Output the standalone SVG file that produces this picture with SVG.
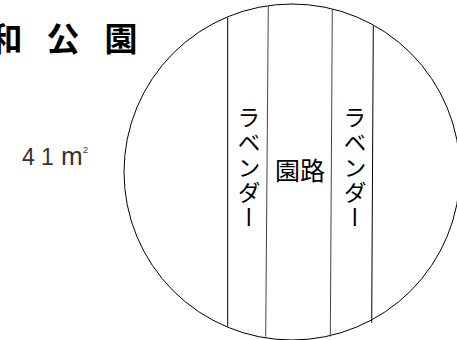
<svg xmlns="http://www.w3.org/2000/svg" width="457" height="340" viewBox="0 0 457 340">
<style>
.t{font-family:"Noto Sans CJK JP","Noto Sans",sans-serif;fill:#000}
.ln{stroke:#000;stroke-width:1;fill:none}
.lg{stroke:#444;stroke-width:1;fill:none}
.v{writing-mode:tb;font-size:23px;letter-spacing:2px}
</style>
<rect width="457" height="340" fill="#fff"/>
<g id="title" class="t" font-size="33" font-weight="bold" text-anchor="middle">
<text x="6" y="50.5">和</text>
<text x="63" y="50.5">公</text>
<text x="121" y="50.5">園</text>
</g>
<g id="area" font-family="'Liberation Sans',Arial,sans-serif" fill="#333">
<text x="22" y="165" font-size="23">4</text>
<text x="41" y="165" font-size="23">1</text>
<text x="61" y="165" font-size="26">m</text>
<text x="83" y="153" font-size="9">2</text>
</g>
<g id="park">
<circle cx="292" cy="172" r="168" class="ln" stroke-width="1.2"/>
<line x1="227.7" y1="17.3" x2="227.7" y2="326.7" class="ln"/>
<line x1="268.3" y1="6" x2="265.7" y2="336.7" class="lg"/>
<line x1="332.3" y1="9.3" x2="330.3" y2="336.7" class="lg"/>
<line x1="373.3" y1="26" x2="371.7" y2="322.7" class="ln"/>
</g>
<g id="lavender-left" class="t"><text x="249" y="106" class="v">ラベンダー</text></g>
<g id="path" class="t"><text x="300" y="180" font-size="25" text-anchor="middle">園路</text></g>
<g id="lavender-right" class="t"><text x="355" y="106" class="v">ラベンダー</text></g>
</svg>
